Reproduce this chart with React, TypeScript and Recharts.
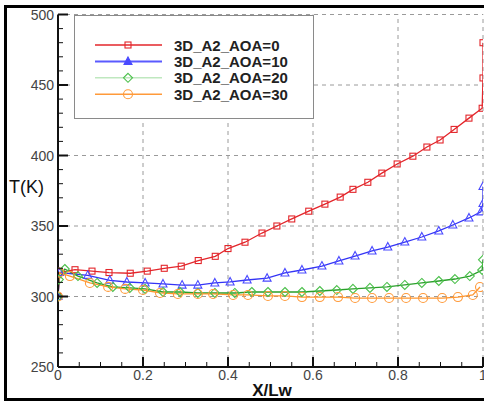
import { LineChart, Line, XAxis, YAxis, ReferenceLine } from 'recharts';

// X/Lw positions and T(K) values, one pair of arrays per case
const xAoa0 = [0, 0.004, 0.04, 0.08, 0.12, 0.17, 0.21, 0.25, 0.29, 0.33, 0.37, 0.4, 0.44, 0.48, 0.515, 0.55, 0.59, 0.628, 0.664, 0.694, 0.729, 0.762, 0.798, 0.835, 0.868, 0.899, 0.932, 0.967, 0.998, 1.0, 1.0];
const tAoa0 = [300, 317, 319, 318, 317, 316.5, 318, 320, 321.5, 325.5, 328.5, 334, 338.5, 345, 350, 355, 360.5, 365.5, 370.5, 376, 381, 387.5, 394, 399.5, 406, 411, 418.5, 426.5, 433.5, 455, 480];

const xAoa10 = [0, 0.004, 0.07, 0.122, 0.162, 0.205, 0.247, 0.292, 0.329, 0.369, 0.405, 0.445, 0.492, 0.534, 0.574, 0.621, 0.661, 0.699, 0.739, 0.776, 0.816, 0.856, 0.896, 0.929, 0.967, 0.995, 1.0, 1.0];
const tAoa10 = [300, 317, 315, 311.5, 310.3, 309.6, 308.9, 308.1, 308.1, 309.6, 310.3, 311.7, 313, 316.7, 318.8, 321.6, 325.2, 328.7, 332.3, 335.1, 338.6, 342.2, 346.5, 350.7, 355.7, 360, 366, 378];

const xAoa20 = [0, 0.002, 0.016, 0.047, 0.092, 0.129, 0.169, 0.205, 0.247, 0.287, 0.329, 0.369, 0.416, 0.456, 0.494, 0.534, 0.574, 0.616, 0.656, 0.694, 0.734, 0.774, 0.816, 0.856, 0.896, 0.934, 0.969, 0.998, 1.0];
const tAoa20 = [300, 312, 319.5, 314.5, 309.6, 306.8, 306.1, 305.4, 303.2, 303.2, 302.5, 302.5, 302.5, 303.2, 303.2, 303.2, 303.2, 303.9, 304.6, 305.4, 306.1, 306.8, 308.2, 309.6, 311, 312.4, 314.5, 318.8, 326];

const xAoa30 = [0, 0.003, 0.028, 0.075, 0.118, 0.158, 0.2, 0.24, 0.282, 0.329, 0.365, 0.412, 0.447, 0.494, 0.534, 0.574, 0.616, 0.659, 0.699, 0.739, 0.779, 0.819, 0.859, 0.904, 0.941, 0.976, 0.993];
const tAoa30 = [300, 317, 314.5, 309.6, 306.8, 305.4, 304.6, 302.5, 301.8, 301.8, 301.8, 301.1, 301.1, 300.4, 300.4, 299.6, 299.6, 299.6, 298.9, 298.9, 298.9, 298.9, 298.9, 298.9, 299.6, 301.1, 306.7];

const xMajorTicks = [0, 0.2, 0.4, 0.6, 0.8, 1];
const xMinorTicks = [0.05, 0.1, 0.15, 0.25, 0.3, 0.35, 0.45, 0.5, 0.55, 0.65, 0.7, 0.75, 0.85, 0.9, 0.95];
const yMajorTicks = [250, 300, 350, 400, 450, 500];
const yMinorTicks = [260, 270, 280, 290, 310, 320, 330, 340, 360, 370, 380, 390, 410, 420, 430, 440, 460, 470, 480, 490];
const xGrid = [0.2, 0.4, 0.6, 0.8, 1];
const yGrid = [300, 350, 400, 450, 500];

const toPoints = (xs: number[], ts: number[]) => xs.map((x, i) => ({ x, t: ts[i] }));

const series = [
  { name: '3D_A2_AOA=0', data: toPoints(xAoa0, tAoa0), color: '#e3262b', dotColor: '#e3262b', legendLine: '#e3262b', shape: 'square', legendFill: false },
  { name: '3D_A2_AOA=10', data: toPoints(xAoa10, tAoa10), color: '#3434f5', dotColor: '#4a4aff', legendLine: '#5a5aff', shape: 'triangle', legendFill: true },
  { name: '3D_A2_AOA=20', data: toPoints(xAoa20, tAoa20), color: '#2a9f2a', dotColor: '#4cc04c', legendLine: '#bfe8bf', shape: 'diamond', legendFill: false },
  { name: '3D_A2_AOA=30', data: toPoints(xAoa30, tAoa30), color: '#ff962e', dotColor: '#ff9a3a', legendLine: '#ff9a3a', shape: 'circle', legendFill: false },
];

function Marker({ cx, cy, shape, color, filled }: any) {
  const fill = filled ? color : 'none';
  const sw = 1.1;
  if (shape === 'square') return <rect x={cx - 3} y={cy - 3} width={6} height={6} fill={fill} stroke={color} strokeWidth={sw} />;
  if (shape === 'triangle')
    return <polygon points={`${cx},${cy - 4.5} ${cx + 4},${cy + 3} ${cx - 4},${cy + 3}`} fill={fill} stroke={color} strokeWidth={sw} />;
  if (shape === 'diamond')
    return <polygon points={`${cx},${cy - 4.5} ${cx + 4.5},${cy} ${cx},${cy + 4.5} ${cx - 4.5},${cy}`} fill={fill} stroke={color} strokeWidth={sw} />;
  return <circle cx={cx} cy={cy} r={4.5} fill={fill} stroke={color} strokeWidth={sw} />;
}

const YTick = ({ x, y, payload }: any) => {
  const major = yMajorTicks.includes(payload.value);
  return (
    <g>
      <line x1={x} y1={y} x2={x + (major ? 10 : 5)} y2={y} stroke="#111" strokeWidth={major ? 2 : 1} />
      {major && (
        <text x={x - 4} y={y + 5} textAnchor="end" fontSize={14} fill="#444" fontFamily="Arial, 'Liberation Sans', sans-serif">
          {payload.value}
        </text>
      )}
    </g>
  );
};

const XTick = ({ x, y, payload }: any) => {
  const major = xMajorTicks.includes(payload.value);
  return (
    <g>
      <line x1={x} y1={y} x2={x} y2={y - (major ? 10 : 5)} stroke="#111" strokeWidth={major ? 2 : 1} />
      {major && (
        <text x={x} y={y + 13} textAnchor="middle" fontSize={14} fill="#444" fontFamily="Arial, 'Liberation Sans', sans-serif">
          {payload.value}
        </text>
      )}
    </g>
  );
};

export default function App() {
  const font = "Arial, 'Liberation Sans', sans-serif";
  return (
    <div style={{ position: 'absolute', left: 0, top: 0, width: 484, height: 403, overflow: 'hidden', background: '#fff' }}>
      {/* outer frame */}
      <div style={{ position: 'absolute', left: 4, top: 5, width: 520, height: 396, border: '3px solid #000', boxSizing: 'border-box' }} />

      <div style={{ position: 'absolute', left: 0, top: 0 }}>
        <LineChart width={500} height={403} margin={{ top: 14.5, right: 17, bottom: 0, left: 0 }}>
          {xGrid.map((v) => (
            <ReferenceLine key={`gx-${v}`} x={v} stroke="#9a9a9a" strokeDasharray="4 4" strokeWidth={1} />
          ))}
          {yGrid.map((v) => (
            <ReferenceLine key={`gy-${v}`} y={v} stroke="#9a9a9a" strokeDasharray="4 4" strokeWidth={1} />
          ))}
          <XAxis
            type="number"
            dataKey="x"
            domain={[0, 1]}
            ticks={[...xMajorTicks, ...xMinorTicks].sort((a, b) => a - b)}
            height={36}
            tickSize={0}
            tickMargin={0}
            tick={<XTick />}
            axisLine={{ stroke: '#111', strokeWidth: 2 }}
            interval={0}
            allowDataOverflow
          />
          <YAxis
            type="number"
            domain={[250, 500]}
            ticks={[...yMajorTicks, ...yMinorTicks].sort((a, b) => a - b)}
            width={58}
            tickSize={0}
            tickMargin={0}
            tick={<YTick />}
            axisLine={{ stroke: '#111', strokeWidth: 2 }}
            interval={0}
            allowDataOverflow
          />
          {series.map((s) => (
            <Line
              key={s.name}
              data={s.data}
              dataKey="t"
              type="linear"
              stroke={s.color}
              strokeWidth={1.3}
              isAnimationActive={false}
              dot={(p: any) => <Marker key={`${s.name}-${p.index}`} cx={p.cx} cy={p.cy} shape={s.shape} color={s.dotColor} filled={false} />}
              activeDot={false}
            />
          ))}
        </LineChart>
      </div>

      {/* legend and axis titles */}
      <svg width={484} height={403} style={{ position: 'absolute', left: 0, top: 0, pointerEvents: 'none' }}>
        <rect x={74.5} y={15.5} width={239} height={103} fill="#fff" stroke="#8a8a8a" strokeWidth={1} />
        {series.map((s, i) => {
          const cy = 45 + i * 16.4;
          return (
            <g key={s.name}>
              <line x1={95} y1={cy} x2={162} y2={cy} stroke={s.legendLine} strokeWidth={s.shape === 'triangle' ? 2 : 1.5} />
              <Marker cx={128} cy={cy} shape={s.shape} color={s.dotColor} filled={s.legendFill} />
              <text x={174} y={cy + 5.5} fontSize={15} fontWeight="bold" fill="#222" fontFamily={font}>
                {s.name}
              </text>
            </g>
          );
        })}
        <text x={9} y={193} fontSize={18} fill="#111" fontFamily={font}>
          T(K)
        </text>
        <text x={272} y={396} textAnchor="middle" fontSize={17} fontWeight="bold" fill="#111" fontFamily={font}>
          X/Lw
        </text>
      </svg>
    </div>
  );
}
